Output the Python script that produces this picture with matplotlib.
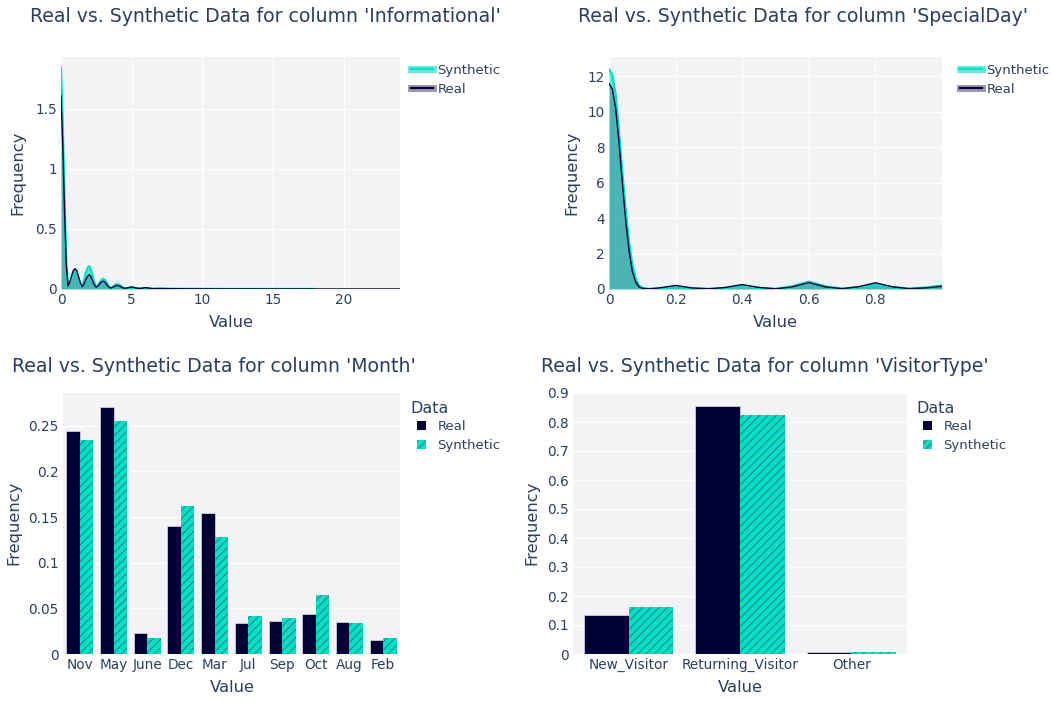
import numpy as np
import matplotlib.pyplot as plt
from matplotlib.lines import Line2D
from matplotlib.patches import Patch
from matplotlib.ticker import FuncFormatter

# ---- data ----
# KDE of 'Informational'
info_x_syn = [0, 0.125, 0.25, 0.375, 0.5, 0.625, 0.75, 0.875, 1.0, 1.125, 1.25, 1.375, 1.5,
              1.625, 1.75, 1.875, 2.0, 2.125, 2.25, 2.375, 2.5, 2.625, 2.75, 2.875, 3.0,
              3.125, 3.25, 3.375, 3.5, 3.625, 3.75, 3.875, 4.0, 4.125, 4.25, 4.375, 4.5,
              4.75, 5.0, 5.25, 5.5, 5.75, 6.0, 6.25, 6.5, 7, 8, 10, 12, 15, 18]
info_y_syn = [1.84, 1.38, 0.75, 0.22, 0.03, 0.05, 0.09, 0.13, 0.15, 0.13, 0.08, 0.04, 0.03,
              0.07, 0.13, 0.175, 0.19, 0.16, 0.10, 0.05, 0.02, 0.03, 0.055, 0.078, 0.085,
              0.072, 0.05, 0.025, 0.01, 0.015, 0.028, 0.037, 0.04, 0.035, 0.024, 0.012, 0.006,
              0.007, 0.012, 0.007, 0.003, 0.004, 0.006, 0.004, 0.002, 0.003, 0.002, 0.001,
              0.0005, 0.0003, 0.0002]
info_x_real = [0, 0.125, 0.25, 0.375, 0.5, 0.625, 0.75, 0.875, 1.0, 1.125, 1.25, 1.375, 1.5,
               1.625, 1.75, 1.875, 2.0, 2.125, 2.25, 2.375, 2.5, 2.625, 2.75, 2.875, 3.0,
               3.125, 3.25, 3.375, 3.5, 3.625, 3.75, 3.875, 4.0, 4.125, 4.25, 4.375, 4.5,
               4.75, 5.0, 5.25, 5.5, 5.75, 6.0, 6.25, 6.5, 7, 8, 10, 12, 15, 18, 20, 24]
info_y_real = [1.61, 1.2, 0.65, 0.2, 0.025, 0.06, 0.11, 0.155, 0.17, 0.15, 0.10, 0.05, 0.02,
               0.04, 0.075, 0.105, 0.12, 0.10, 0.065, 0.03, 0.015, 0.025, 0.045, 0.06, 0.065,
               0.055, 0.035, 0.018, 0.008, 0.012, 0.02, 0.027, 0.03, 0.026, 0.018, 0.01, 0.006,
               0.01, 0.018, 0.01, 0.005, 0.007, 0.012, 0.007, 0.003, 0.004, 0.002, 0.001,
               0.0005, 0.0003, 0.0002, 0.0002, 0.0002]

# KDE of 'SpecialDay'
sd_x = [0, 0.01, 0.02, 0.03, 0.04, 0.05, 0.06, 0.07, 0.08, 0.09, 0.1, 0.12, 0.15, 0.2, 0.25,
        0.3, 0.35, 0.4, 0.45, 0.5, 0.55, 0.6, 0.65, 0.7, 0.75, 0.8, 0.85, 0.9, 0.95, 1.0]
sd_y_syn = [12.4, 12.1, 11.0, 8.9, 6.6, 4.5, 2.7, 1.4, 0.6, 0.2, 0.06, 0.01, 0.02, 0.1,
            0.03, 0.01, 0.05, 0.15, 0.06, 0.01, 0.15, 0.42, 0.15, 0.02, 0.1, 0.25, 0.1,
            0.02, 0.08, 0.2]
sd_y_real = [11.6, 11.3, 10.2, 8.3, 6.0, 3.9, 2.2, 1.0, 0.4, 0.12, 0.04, 0.01, 0.06, 0.2,
             0.06, 0.01, 0.09, 0.25, 0.09, 0.01, 0.12, 0.36, 0.12, 0.02, 0.13, 0.35, 0.13,
             0.02, 0.06, 0.15]

# 'Month' frequencies
months = ['Nov', 'May', 'June', 'Dec', 'Mar', 'Jul', 'Sep', 'Oct', 'Aug', 'Feb']
month_real = [0.244, 0.271, 0.023, 0.140, 0.154, 0.034, 0.036, 0.044, 0.035, 0.015]
month_syn = [0.235, 0.255, 0.018, 0.162, 0.128, 0.042, 0.039, 0.065, 0.034, 0.018]

# 'VisitorType' frequencies
visitors = ['New_Visitor', 'Returning_Visitor', 'Other']
visitor_real = [0.136, 0.855, 0.006]
visitor_syn = [0.163, 0.825, 0.008]

# ---- style ----
REAL = '#000036'
SYN = '#00E0C6'
HATCH = '#2F7F77'
BG = '#F3F3F6'
TXT = '#2a3f5f'
W, H = 1053, 702

plt.rcParams['font.family'] = ['DejaVu Sans']
plt.rcParams['hatch.linewidth'] = 0.7

fig = plt.figure(figsize=(W / 100, H / 100), dpi=100)


def px_axes(x0, y0, x1, y1):
    return fig.add_axes([x0 / W, 1 - y1 / H, (x1 - x0) / W, (y1 - y0) / H])


def style(ax, grid_x=True):
    ax.set_facecolor(BG)
    for s in ax.spines.values():
        s.set_visible(False)
    ax.tick_params(length=0, labelsize=9.8, labelcolor=TXT, pad=3)
    ax.grid(True, axis='y', color='white', lw=1)
    if grid_x:
        ax.grid(True, axis='x', color='white', lw=1)
    ax.set_axisbelow(True)
    ax.yaxis.set_major_formatter(FuncFormatter(lambda v, p: '%g' % v))
    ax.xaxis.set_major_formatter(FuncFormatter(lambda v, p: '%g' % v))


def fig_text(x, y, s, size, **kw):
    fig.text(x / W, 1 - y / H, s, fontsize=size, color=TXT, **kw)


def kde_panel(ax, xs, ys, xr, yr):
    ax.fill_between(xs, ys, color=SYN, alpha=0.6, lw=0)
    ax.plot(xs, ys, color=SYN, lw=1.6)
    ax.fill_between(xr, yr, color=REAL, alpha=0.22, lw=0)
    ax.plot(xr, yr, color=REAL, lw=1.0)


def kde_legend(x, y):
    h_syn = (Line2D([], [], color=SYN, alpha=0.6, lw=5), Line2D([], [], color=SYN, lw=1.6))
    h_real = (Line2D([], [], color=REAL, alpha=0.4, lw=5), Line2D([], [], color=REAL, lw=1.6))
    leg = fig.legend([h_syn, h_real], ['Synthetic', 'Real'], loc='upper left',
                     bbox_to_anchor=(x / W, 1 - y / H), frameon=False, fontsize=9.5,
                     handlelength=1.65, handletextpad=0.35, labelspacing=0.45, borderpad=0,
                     borderaxespad=0)
    for t in leg.get_texts():
        t.set_color(TXT)


def bar_panel(ax, cats, real, syn):
    pos = np.arange(len(cats))
    ax.bar(pos - 0.2, real, width=0.4, color=REAL, edgecolor='#DDDDE6', lw=0.5)
    ax.bar(pos + 0.2, syn, width=0.4, color=SYN, edgecolor=HATCH, lw=0, hatch='////')
    ax.set_xticks(pos)
    ax.set_xticklabels(cats)
    ax.set_xlim(-0.5, len(cats) - 0.5)


def bar_legend(x, y):
    fig_text(x, y, 'Data', 11.5, va='center')
    handles = [Patch(facecolor=REAL, edgecolor=REAL, lw=0),
               Patch(facecolor=SYN, edgecolor=HATCH, lw=0, hatch='////')]
    leg = fig.legend(handles, ['Real', 'Synthetic'], loc='upper left',
                     bbox_to_anchor=((x + 7) / W, 1 - (y + 12) / H), frameon=False,
                     fontsize=9.5, handlelength=0.7, handleheight=0.7, handletextpad=0.85,
                     labelspacing=0.45, borderpad=0, borderaxespad=0)
    for t in leg.get_texts():
        t.set_color(TXT)


# ---- Informational ----
ax1 = px_axes(61, 57, 400, 289)
style(ax1)
kde_panel(ax1, info_x_syn, info_y_syn, info_x_real, info_y_real)
ax1.set_xlim(0, 24)
ax1.set_ylim(0, 1.93)
ax1.set_xticks([0, 5, 10, 15, 20])
ax1.set_yticks([0, 0.5, 1, 1.5])
kde_legend(411, 64)
fig_text(30, 17, "Real vs. Synthetic Data for column 'Informational'", 13.6, va='center')
fig_text(18, 173, 'Frequency', 11.8, rotation=90, va='center', ha='center')
fig_text(231, 322, 'Value', 11.8, va='center', ha='center')

# ---- SpecialDay ----
ax2 = px_axes(609, 57, 942, 289)
style(ax2)
kde_panel(ax2, sd_x, sd_y_syn, sd_x, sd_y_real)
ax2.set_xlim(0, 1)
ax2.set_ylim(0, 13.1)
ax2.set_xticks([0, 0.2, 0.4, 0.6, 0.8])
ax2.set_yticks([0, 2, 4, 6, 8, 10, 12])
kde_legend(960, 64)
fig_text(578, 17, "Real vs. Synthetic Data for column 'SpecialDay'", 13.6, va='center')
fig_text(572, 173, 'Frequency', 11.8, rotation=90, va='center', ha='center')
fig_text(775, 322, 'Value', 11.8, va='center', ha='center')

# ---- Month ----
ax3 = px_axes(63, 393, 400, 654)
style(ax3, grid_x=False)
bar_panel(ax3, months, month_real, month_syn)
ax3.set_ylim(0, 0.286)
ax3.set_yticks([0, 0.05, 0.1, 0.15, 0.2, 0.25])
bar_legend(410, 408)
fig_text(12, 367, "Real vs. Synthetic Data for column 'Month'", 13.6, va='center')
fig_text(14, 523, 'Frequency', 11.8, rotation=90, va='center', ha='center')
fig_text(232, 687, 'Value', 11.8, va='center', ha='center')

# ---- VisitorType ----
ax4 = px_axes(573, 393, 907, 654)
style(ax4, grid_x=False)
bar_panel(ax4, visitors, visitor_real, visitor_syn)
ax4.set_ylim(0, 0.9)
ax4.set_yticks([0, 0.1, 0.2, 0.3, 0.4, 0.5, 0.6, 0.7, 0.8, 0.9])
bar_legend(916, 408)
fig_text(541, 367, "Real vs. Synthetic Data for column 'VisitorType'", 13.6, va='center')
fig_text(532, 523, 'Frequency', 11.8, rotation=90, va='center', ha='center')
fig_text(740, 687, 'Value', 11.8, va='center', ha='center')

fig.savefig('out.png', dpi=100)
